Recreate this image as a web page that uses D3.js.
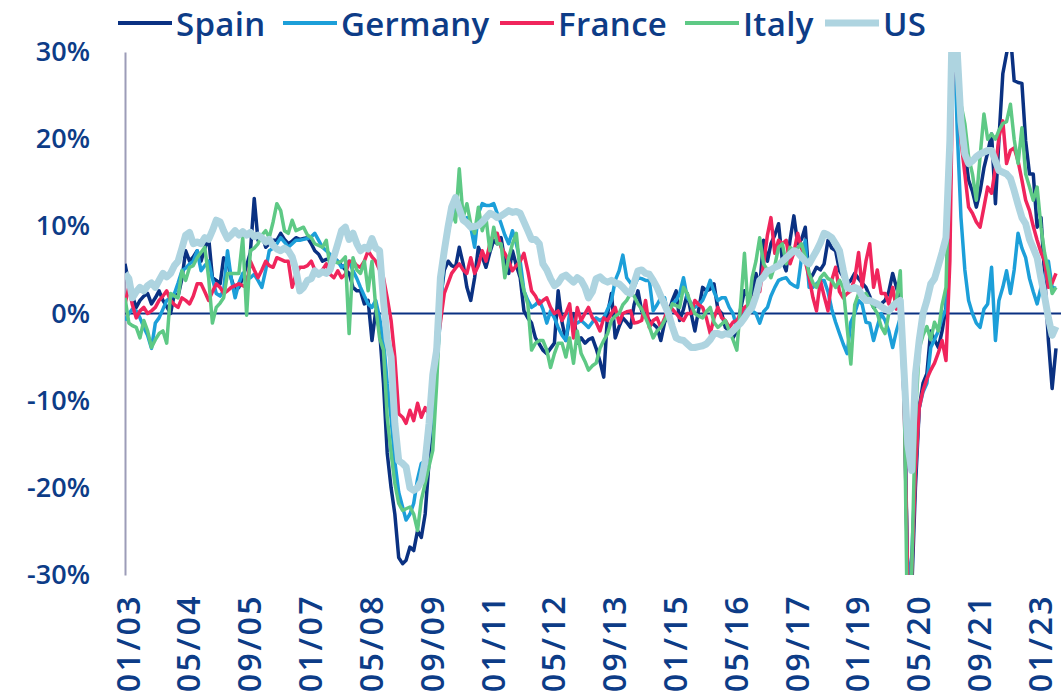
<!DOCTYPE html>
<html>
<head>
<meta charset="utf-8">
<script src="https://cdn.jsdelivr.net/npm/d3@7"></script>
<style>
  body { margin: 0; background: #fff; }
  text { font-family: "Open Sans", sans-serif; font-weight: 600; fill: #0d3c87; }
</style>
</head>
<body>
<script>
var width = 1061;
var height = 698;

// monthly values, Jan 2003 - Jun 2023 (% y/y)
var spain = [
  5.7, 3.4, 2.0, 0.7, 1.5, 2.0, 2.3, 1.1, 1.8, 2.6, 1.5, 0.8,
  0.0, 2.3, 2.0, 4.0, 7.2, 6.0, 6.5, 7.2, 6.0, 7.5, 8.7, 4.1,
  3.8, 3.4, 6.4, 6.0, 4.0, 2.6, 3.0, 4.1, 5.5, 7.0, 13.2, 8.4,
  9.0, 7.6, 8.0, 8.4, 8.4, 9.2, 8.5, 8.0, 8.3, 8.7, 8.5, 8.6,
  8.7, 8.0, 7.2, 6.8, 6.0, 6.2, 6.3, 6.4, 6.0, 5.5, 5.0, 4.6,
  3.0, 2.6, 2.6, 1.1, 1.5, -3.1, 0.3, -2.0, -8.0, -16.0, -20.0, -23.0,
  -28.0, -28.7, -28.3, -26.8, -27.2, -24.9, -25.7, -23.0, -17.0, -10.0, -2.0, 1.5,
  5.0, 6.0, 5.5, 5.3, 7.6, 5.7, 3.0, 1.5, 4.1, 7.6, 6.5, 5.3,
  7.0, 8.4, 8.0, 8.7, 6.0, 4.6, 7.2, 5.5, 4.1, 0.3, -0.5, -1.1,
  -2.8, -3.5, -4.2, -4.6, -4.0, -3.4, 2.6, -1.0, -3.1, -0.5, 0.0, -3.4,
  -2.8, -3.4, -3.0, -2.8, -4.0, -5.5, -7.3, 0.0, 2.3, -2.8, -1.5, -0.5,
  -1.0, -1.6, 1.0, 2.6, 0.3, 0.0, -0.8, -1.2, -1.6, -3.1, -1.0, 0.0,
  1.5, 2.6, -0.8, 0.5, 2.3, 0.0, -2.0, 0.5, 3.0, 2.6, 2.8, 3.4,
  0.5, 0.0, -1.6, -2.0, -2.8, -2.0, 0.5, 2.6, 2.0, 1.8, 4.6, 3.0,
  8.4, 6.0, 8.0, 9.0, 10.3, 6.0, 4.9, 8.4, 11.2, 8.0, 8.5, 9.9,
  3.8, 4.5, 5.3, 5.0, 5.7, 8.4, 7.5, 7.2, 4.9, 4.2, 3.4, 3.8,
  4.6, 4.0, 3.5, 3.0, 2.0, 0.7, 1.0, 1.1, 1.5, 2.5, 4.6, 3.0,
  1.5, -8.0, -31.0, -32.0, -20.0, -10.8, -8.0, -6.9, -2.0, -3.0, -3.9, -2.0,
  0.7, 12.0, 35.0, 30.0, 22.0, 18.7, 15.3, 14.0, 12.2, 14.0, 16.7, 18.5,
  20.6, 12.6, 20.0, 27.5, 29.8, 32.0, 26.7, 26.5, 26.4, 19.8, 16.0, 16.0,
  9.9, 11.0, 4.6, -3.1, -8.6, -4.0
];

var germany = [
  -0.8, 0.0, 0.5, 0.3, -0.5, -1.6, -2.5, -4.0, -1.1, -0.5, 0.5, 1.5,
  1.8, 2.3, 3.5, 4.9, 5.2, 5.7, 6.0, 7.2, 4.9, 5.5, 6.0, 4.0,
  2.3, 2.0, 2.6, 7.2, 4.0, 1.8, 3.5, 4.6, 4.0, 4.1, 4.5, 3.8,
  3.0, 5.0, 7.2, 7.5, 8.0, 8.7, 8.2, 7.6, 8.0, 8.4, 8.4, 8.5,
  8.6, 8.8, 9.2, 8.4, 7.6, 7.2, 6.8, 6.4, 6.0, 5.3, 5.6, 6.0,
  4.9, 4.0, 3.0, 2.0, 1.1, 0.7, 1.5, -0.5, -3.1, -8.0, -12.0, -17.0,
  -20.5, -22.2, -23.7, -23.0, -21.8, -19.0, -17.2, -16.9, -14.6, -11.0, -6.0, -0.5,
  7.2, 9.5, 11.0, 12.6, 11.5, 10.7, 11.0, 9.9, 7.6, 11.5, 12.6, 12.4,
  12.4, 12.6, 11.5, 10.3, 9.0, 8.0, 9.5, 8.0, 6.0, 2.6, 1.5, 0.7,
  1.0, 1.5, 0.5, -1.1, 0.3, -0.5, -1.6, -2.5, -3.1, 0.0, -1.0, -1.1,
  -0.8, -1.2, -1.6, -1.0, -0.5, -0.8, -0.5, 0.5, 1.5, 3.8, 4.9, 6.7,
  4.1, 3.5, 3.0, 4.1, 4.0, 3.8, 3.8, 0.3, 1.0, 1.8, 1.8, -0.5,
  1.1, 1.5, 2.3, 4.1, 1.8, 1.2, 0.7, 1.0, 1.5, 2.5, 3.8, 2.5,
  1.5, 1.8, 1.8, 0.7, 0.0, -1.6, -0.5, 0.0, 0.7, 0.3, 0.0, -1.1,
  0.2, 0.7, 2.0, 3.0, 3.8, 4.0, 4.1, 3.5, 3.2, 3.0, 6.4, 8.4,
  3.0, 3.0, 3.4, 3.8, 3.8, 2.5, 0.5, -1.0, -2.3, -3.5, -4.6, -1.0,
  0.0, 1.5, 1.1, -1.0, -1.1, -3.1, -1.5, 0.0, -0.8, -2.0, -3.9, -2.0,
  -0.5, -10.0, -31.0, -28.0, -18.0, -10.8, -9.0, -8.0, -3.9, -3.0, -2.0, -0.5,
  0.5, 12.0, 35.0, 21.0, 11.0, 5.0, 1.5, 0.0, -1.1, -1.6, 0.5, 1.1,
  5.3, -3.1, 1.5, 3.0, 4.9, 2.3, 5.0, 9.2, 7.5, 6.4, 4.0, 2.5,
  1.1, 3.0, 4.0, 6.0, 3.0, 2.9
];

var france = [
  1.1, 3.0, 1.0, -0.5, 0.3, 0.7, 0.0, 0.3, 0.7, 1.5, 2.0, 2.6,
  1.5, 1.0, 0.7, 1.8, 1.5, 1.1, 2.0, 3.4, 3.4, 2.5, 1.5, 2.5,
  3.4, 3.0, 2.3, 2.6, 3.0, 3.2, 3.4, 3.2, 3.0, 6.0, 5.0, 4.1,
  5.0, 6.0, 5.5, 5.3, 6.4, 6.2, 6.0, 6.0, 3.0, 4.5, 5.3, 5.3,
  5.5, 6.0, 5.0, 4.6, 5.0, 5.7, 4.5, 4.1, 4.9, 4.1, 4.5, 6.0,
  6.0, 5.5, 5.3, 6.0, 7.2, 6.5, 6.0, 5.0, 4.1, 1.8, -0.8, -5.0,
  -11.5, -11.9, -12.6, -11.1, -12.3, -10.3, -11.9, -10.8, -11.5, -8.0, -4.0, -1.0,
  2.3, 3.5, 4.6, 5.2, 5.7, 5.0, 4.6, 6.4, 4.6, 5.5, 7.2, 6.0,
  8.0, 9.2, 9.2, 7.6, 6.9, 6.0, 4.9, 5.5, 6.0, 6.9, 4.9, 2.6,
  2.0, 1.1, 1.5, 1.8, 0.7, 0.0, 0.3, -0.8, 0.0, 1.1, -2.8, 0.7,
  -0.8, 0.0, 0.7, -0.5, -1.0, -2.0, -0.5, -0.8, 0.0, 0.7, -1.1, 0.0,
  0.2, 0.3, -1.1, -1.0, -0.8, 1.5, -1.6, -0.8, -0.5, -1.6, -0.5, 0.7,
  0.5, 0.0, -0.5, -0.8, 0.0, 0.0, 1.5, 1.0, 0.7, -0.5, -2.3, -0.5,
  0.7, -0.5, -0.8, -1.6, -1.0, -0.8, 0.0, 0.7, 1.0, 1.5, 2.3, 2.5,
  5.7, 9.0, 11.0, 6.9, 8.4, 8.0, 8.4, 5.7, 7.0, 9.2, 7.5, 6.0,
  4.1, 1.8, 0.3, 3.8, 2.0, 0.3, 3.8, 5.3, 2.5, 1.8, 2.3, 2.6,
  4.0, 7.0, 3.0, 6.0, 8.0, 3.0, 5.0, 2.3, 2.3, 1.1, 3.0, 0.5,
  1.5, -10.0, -31.0, -30.0, -18.0, -10.8, -8.8, -7.5, -6.5, -5.7, -4.5, -3.1,
  -5.4, 6.0, 33.0, 28.0, 19.8, 16.0, 12.2, 11.5, 10.5, 9.9, 12.2, 14.5,
  13.8, 16.7, 20.2, 22.1, 17.2, 18.7, 19.0, 17.5, 15.3, 13.0, 11.8, 10.0,
  8.4, 7.0, 6.0, 3.0, 3.5, 4.6
];

var italy = [
  1.8, -1.1, -1.4, -1.6, -2.8, -0.8, -2.0, -3.9, -3.0, -2.3, -2.0, -3.4,
  2.3, 2.0, 1.8, 4.9, 3.8, 5.3, 5.5, 6.4, 7.0, 7.6, 4.1, -1.1,
  0.7, 1.2, 1.8, 4.6, 4.6, 4.6, 4.6, 8.7, -0.2, 7.2, 7.5, 8.0,
  9.0, 9.5, 8.7, 10.5, 12.6, 11.8, 9.5, 9.2, 10.7, 9.5, 9.7, 9.9,
  9.0, 8.7, 8.0, 7.8, 7.6, 8.4, 5.3, 6.0, 5.8, 6.0, 6.5, -2.3,
  6.4, 5.0, 4.6, 6.0, 2.6, 6.0, 0.7, -2.8, -4.2, -11.9, -16.0, -19.5,
  -21.8, -22.6, -22.4, -22.2, -23.0, -24.9, -21.4, -19.5, -17.5, -15.7, -8.1, 1.5,
  6.9, 9.2, 11.8, 10.5, 16.6, 11.0, 12.6, 10.3, 9.2, 12.2, 9.5, 11.0,
  7.2, 9.9, 8.0, 8.0, 4.1, 6.4, 8.0, 9.2, 4.6, 2.6, 1.1, -4.2,
  -3.4, -3.1, -3.1, -4.2, -6.2, -4.6, -3.4, -3.4, -5.0, -2.8, -5.7, -2.0,
  -4.6, -5.5, -6.5, -6.0, -5.7, -4.0, -3.1, -2.3, -0.8, -0.3, 0.0, 1.0,
  1.5, 2.3, 2.0, 1.1, 0.5, -0.5, -1.5, -2.8, -2.0, -1.6, -0.8, 0.0,
  1.1, 0.9, 0.7, 3.0, 2.3, 1.0, 0.0, -0.3, -0.5, 0.2, 0.7, -1.0,
  -1.6, -1.2, -0.8, -2.0, -3.0, -4.2, 1.0, 6.9, 0.0, 4.1, 6.0, 8.7,
  5.7, 5.0, 4.1, 5.5, 7.6, 8.0, 5.7, 7.6, 7.2, 7.5, 8.0, 6.5,
  4.6, 3.5, 3.0, 4.1, 4.6, 4.0, 3.8, 3.0, 3.8, 3.0, -1.6, -5.8,
  1.0, 2.3, 2.0, 2.3, 1.5, 0.7, 0.0, -1.5, -2.3, 0.0, 1.1, 1.5,
  4.9, -8.0, -40.0, -30.0, -12.0, -4.0, -2.5, -1.5, -3.0, -1.0, -2.0, 1.0,
  3.0, 20.0, 40.0, 32.0, 24.0, 21.8, 18.0, 16.0, 13.0, 18.0, 22.9, 20.0,
  20.6, 20.0, 21.0, 21.8, 22.0, 24.0, 20.0, 17.2, 21.3, 16.0, 14.5, 13.0,
  14.5, 9.9, 7.0, 4.9, 2.3, 3.0
];

var us = [
  4.6, 4.0, 1.8, 2.5, 3.0, 2.6, 3.2, 3.5, 3.0, 3.8, 4.6, 4.2,
  4.6, 5.5, 6.0, 7.5, 9.0, 9.3, 8.0, 8.2, 8.0, 8.7, 8.5, 9.5,
  10.7, 10.5, 9.5, 8.6, 9.0, 9.5, 9.0, 9.4, 9.0, 9.3, 8.8, 9.0,
  8.7, 8.2, 8.5, 7.8, 7.4, 7.2, 7.5, 7.2, 6.5, 5.0, 2.6, 3.0,
  3.8, 4.0, 4.9, 4.5, 4.8, 4.6, 5.0, 6.5, 8.0, 9.5, 9.9, 8.5,
  9.2, 8.0, 7.2, 7.6, 7.4, 8.6, 7.5, 7.2, 1.5, -3.0, -5.0, -12.6,
  -16.9, -17.2, -17.6, -20.0, -20.3, -20.0, -19.2, -16.9, -12.6, -7.0, -4.2, 4.1,
  7.2, 10.0, 12.2, 13.3, 12.0, 10.7, 10.4, 9.9, 10.0, 10.1, 10.5, 11.0,
  11.5, 11.3, 11.0, 11.2, 11.5, 11.8, 11.6, 11.7, 11.5, 10.5, 9.5, 8.5,
  8.5, 8.0, 5.7, 5.0, 4.0, 3.2, 3.5, 4.2, 4.4, 4.0, 3.6, 4.1,
  3.8, 3.0, 1.8, 2.5, 4.0, 4.2, 3.8, 3.6, 3.8, 3.5, 3.4, 3.0,
  2.5, 2.3, 3.5, 4.9, 5.0, 4.6, 4.5, 3.8, 3.0, 2.0, 1.0, 0.0,
  -1.5, -2.8, -3.0, -3.1, -3.5, -3.9, -3.9, -3.8, -3.7, -3.5, -3.0, -2.3,
  -2.3, -2.5, -2.3, -2.4, -2.0, -1.5, -1.1, -0.5, 0.2, 0.7, 2.0, 3.8,
  4.2, 4.9, 5.0, 5.3, 5.5, 6.0, 6.4, 6.8, 7.2, 7.0, 6.5, 6.0,
  5.7, 6.5, 7.2, 8.1, 9.2, 9.0, 8.7, 8.0, 7.2, 5.0, 3.0, 2.8,
  3.0, 2.8, 2.0, 1.5, 1.5, 1.3, 1.1, 0.8, 0.5, 0.3, 0.8, 1.2,
  1.5, -6.9, -15.0, -18.0, -7.0, -3.0, 0.0, 1.5, 3.4, 4.0, 5.5, 7.0,
  8.7, 19.8, 40.0, 30.0, 22.0, 18.3, 17.2, 17.5, 18.0, 18.3, 18.5, 18.7,
  18.7, 17.5, 16.4, 16.2, 16.0, 15.5, 14.1, 12.5, 11.0, 10.3, 8.5, 7.5,
  6.4, 4.0, 2.0, -0.5, -2.5, -1.5
];

var countries = ["Spain", "Germany", "France", "Italy", "US"];
var colors = ["#0a3182", "#1c9fd9", "#f0255c", "#5ec985", "#aed4e0"];
var yTicks = [-30, -20, -10, 0, 10, 20, 30];
var xTickLabels = ["01/03", "05/04", "09/05", "01/07", "05/08", "09/09", "01/11", "05/12",
                   "09/13", "01/15", "05/16", "09/17", "01/19", "05/20", "09/21", "01/23"];

var parseMonth = d3.timeParse("%m/%y");
var dates = d3.timeMonth.range(new Date(2003, 0, 1), new Date(2023, 6, 1));

var svg = d3.select("body").append("svg")
    .attr("width", width)
    .attr("height", height);

var plotLeft = 125, plotRight = 1056, plotTop = 52, plotBottom = 575;

var x = d3.scaleTime()
    .domain([dates[0], dates[dates.length - 1]])
    .range([plotLeft, plotRight]);

var y = d3.scaleLinear()
    .domain([-30, 30])
    .range([plotBottom, plotTop]);

svg.append("clipPath").attr("id", "plot")
  .append("rect")
    .attr("x", plotLeft).attr("y", plotTop)
    .attr("width", width - plotLeft).attr("height", plotBottom - plotTop);

// y axis
var yAxis = svg.append("g")
    .attr("transform", "translate(" + plotLeft + ",0)")
    .call(d3.axisLeft(y).tickValues(yTicks).tickSize(0).tickPadding(35)
      .tickFormat(function(d) { return d + "%"; }));
yAxis.select(".domain").attr("stroke", "#9c9cb8").attr("stroke-width", 2);
yAxis.selectAll("text")
    .attr("font-size", 27)
    .style("font-family", "'Open Sans', sans-serif")
    .style("font-weight", 600)
    .attr("fill", "#0d3c87");

// x axis
var xAxis = svg.append("g")
    .attr("transform", "translate(0," + plotBottom + ")")
    .call(d3.axisBottom(x).tickValues(xTickLabels.map(parseMonth)).tickSize(0)
      .tickFormat(d3.timeFormat("%m/%y")));
xAxis.select(".domain").remove();
xAxis.selectAll("text")
    .attr("transform", "rotate(-90)")
    .attr("x", -19)
    .attr("y", 3)
    .attr("dy", "0.35em")
    .attr("text-anchor", "end")
    .attr("font-size", 32)
    .attr("letter-spacing", 2.5)
    .style("font-family", "'Open Sans', sans-serif")
    .style("font-weight", 600)
    .attr("fill", "#0d3c87");

// zero line
svg.append("line")
    .attr("x1", plotLeft).attr("x2", width)
    .attr("y1", y(0)).attr("y2", y(0))
    .attr("stroke", "#0a3182")
    .attr("stroke-width", 2);

var line = d3.line()
    .x(function(d, i) { return x(dates[i]); })
    .y(function(d) { return y(d); });

var series = [spain, germany, france, italy, us];

svg.append("g").attr("clip-path", "url(#plot)")
  .selectAll("path")
  .data(series)
  .enter().append("path")
    .attr("d", line)
    .attr("fill", "none")
    .attr("stroke", function(d, i) { return colors[i]; })
    .attr("stroke-width", function(d, i) { return i == 4 ? 7 : 3.5; })
    .attr("stroke-linejoin", "round");

// legend
var legendX = [118, 283, 500, 685, 825];
var legend = svg.append("g").selectAll("g")
    .data(countries)
    .enter().append("g")
    .attr("transform", function(d, i) { return "translate(" + legendX[i] + ",0)"; });

legend.append("line")
    .attr("x1", 0).attr("x2", 54)
    .attr("y1", 23).attr("y2", 23)
    .attr("stroke", function(d, i) { return colors[i]; })
    .attr("stroke-width", function(d, i) { return i == 4 ? 7 : 4; });

legend.append("text")
    .attr("x", 58)
    .attr("y", 36)
    .attr("font-size", 33)
    .attr("letter-spacing", 0.3)
    .text(function(d) { return d; });
</script>
</body>
</html>
